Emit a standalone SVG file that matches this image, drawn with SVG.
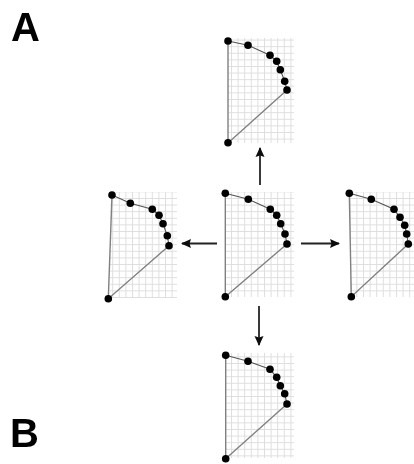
<svg xmlns="http://www.w3.org/2000/svg" width="414" height="464" viewBox="0 0 414 464">
<style>
.lab{font-family:"Liberation Sans",Arial,sans-serif;font-weight:700;font-size:40px;fill:#000}
.grid{fill:none;stroke:#dedede;stroke-width:1}
.side{fill:none;stroke:#808080;stroke-width:1.4}
.arc{fill:none;stroke:#555;stroke-width:1.1}
.pts circle{fill:#000}
.arr{stroke:#222;stroke-width:1.8;fill:none;marker-end:url(#ah)}
</style>
<defs>
<filter id="soft" x="0" y="0" width="100%" height="100%"><feGaussianBlur stdDeviation="0.5"/></filter>
<marker id="ah" markerUnits="userSpaceOnUse" markerWidth="10" markerHeight="10" refX="9" refY="5" orient="auto"><path d="M0 0.500L10 5L0 9.500L1.500 5Z" fill="#111"/></marker>
<pattern id="g" width="6.600" height="6.600" patternUnits="userSpaceOnUse"><path d="M0 .5H6.600M.5 0V6.600" class="grid"/></pattern>
</defs>
<rect width="414" height="464" fill="#fff"/>
<g filter="url(#soft)">
<text class="lab" x="11" y="41">A</text>
<text class="lab" x="10" y="447">B</text>
<g id="connectors">
<path class="arr" d="M260 185V148"/>
<path class="arr" d="M217 243.500H182"/>
<path class="arr" d="M301 243.500H339"/>
<path class="arr" d="M259 306V345"/>
</g>
<g id="node-top">
<rect x="228" y="38" width="66" height="105" fill="url(#g)"/>
<path class="side" d="M228 41V143L287 90"/>
<path class="arc" d="M228 41L248 45.300L270 55.300L276.700 61.300L280.300 69.700L284.700 81.300L287 90"/>
<g class="pts"><circle cx="228" cy="41" r="3.800"/><circle cx="248" cy="45.300" r="3.800"/><circle cx="270" cy="55.300" r="3.800"/><circle cx="276.700" cy="61.300" r="3.800"/><circle cx="280.300" cy="69.700" r="3.800"/><circle cx="284.700" cy="81.300" r="3.800"/><circle cx="287" cy="90" r="3.800"/><circle cx="228" cy="142.700" r="3.800"/></g>
</g>
<g id="node-left">
<rect x="110" y="192" width="67" height="106" fill="url(#g)"/>
<path class="side" d="M112 195L108.300 298.700L169 245.700"/>
<path class="arc" d="M112 195L130.300 203.300L152.300 209.300L159 215.300L163 223.700L167.300 235.700L169 245.700"/>
<g class="pts"><circle cx="112" cy="195" r="3.800"/><circle cx="130.300" cy="203.300" r="3.800"/><circle cx="152.300" cy="209.300" r="3.800"/><circle cx="159" cy="215.300" r="3.800"/><circle cx="163" cy="223.700" r="3.800"/><circle cx="167.300" cy="235.700" r="3.800"/><circle cx="169" cy="245.700" r="3.800"/><circle cx="108.300" cy="298.700" r="3.800"/></g>
</g>
<g id="node-center">
<rect x="226" y="192" width="68" height="105" fill="url(#g)"/>
<path class="side" d="M225.300 193.300V296.700L287 244"/>
<path class="arc" d="M225.300 193.300L248.300 199.300L270.300 209.300L276.700 215.300L280.700 223.700L285 234L287 244"/>
<g class="pts"><circle cx="225.300" cy="193.300" r="3.800"/><circle cx="248.300" cy="199.300" r="3.800"/><circle cx="270.300" cy="209.300" r="3.800"/><circle cx="276.700" cy="215.300" r="3.800"/><circle cx="280.700" cy="223.700" r="3.800"/><circle cx="285" cy="234" r="3.800"/><circle cx="287" cy="244" r="3.800"/><circle cx="225.300" cy="296.700" r="3.800"/></g>
</g>
<g id="node-right">
<rect x="350" y="192" width="64" height="105" fill="url(#g)"/>
<path class="side" d="M349.300 193.300L351.300 296.700L408.300 244"/>
<path class="arc" d="M349.300 193.300L371.300 199.300L394 209.300L400 217.300L404.700 225.300L406.700 234L408.300 244"/>
<g class="pts"><circle cx="349.300" cy="193.300" r="3.800"/><circle cx="371.300" cy="199.300" r="3.800"/><circle cx="394" cy="209.300" r="3.800"/><circle cx="400" cy="217.300" r="3.800"/><circle cx="404.700" cy="225.300" r="3.800"/><circle cx="406.700" cy="234" r="3.800"/><circle cx="408.300" cy="244" r="3.800"/><circle cx="351.300" cy="296.700" r="3.800"/></g>
</g>
<g id="node-bottom">
<rect x="226" y="353" width="68" height="105" fill="url(#g)"/>
<path class="side" d="M225.700 355.300V458.700L287 404"/>
<path class="arc" d="M225.700 355.300L248 361.300L270 369.300L276.700 377.300L280.300 385.700L284.700 393.700L287 404"/>
<g class="pts"><circle cx="225.700" cy="355.300" r="3.800"/><circle cx="248" cy="361.300" r="3.800"/><circle cx="270" cy="369.300" r="3.800"/><circle cx="276.700" cy="377.300" r="3.800"/><circle cx="280.300" cy="385.700" r="3.800"/><circle cx="284.700" cy="393.700" r="3.800"/><circle cx="287" cy="404" r="3.800"/><circle cx="225.700" cy="458.700" r="3.800"/></g>
</g>
</g>
</svg>
